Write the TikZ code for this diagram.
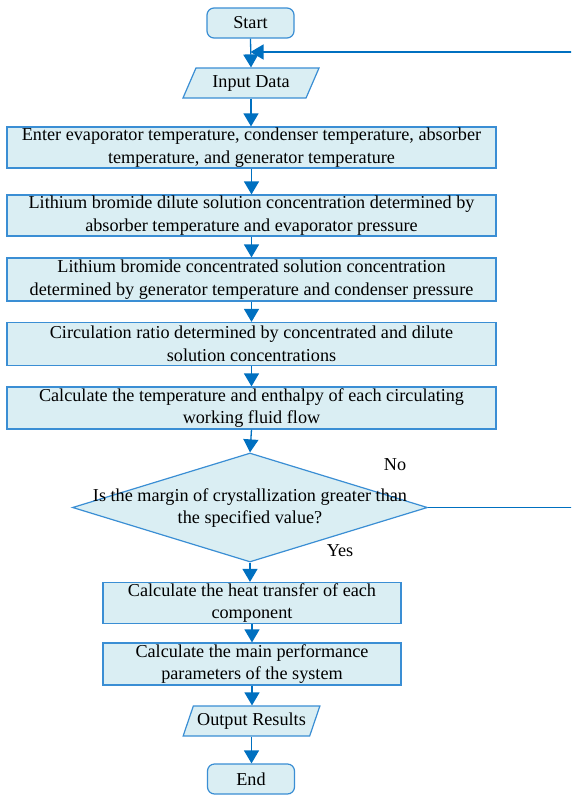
\documentclass[tikz,border=0pt]{standalone}
\usepackage{fontspec}
\setmainfont{Liberation Serif}
\usetikzlibrary{shapes.geometric,arrows.meta}
\definecolor{boxfill}{HTML}{DAEEF3}
\definecolor{boxline}{HTML}{3A8ED4}
\definecolor{arrowc}{HTML}{0070C0}
\tikzset{
  every node/.style={font=\fontsize{18.2}{22.5}\selectfont},
  procbox/.style={draw=boxline, fill=boxfill, line width=1.2pt, inner sep=0pt, align=center, rectangle},
  termbox/.style={draw=boxline, fill=boxfill, line width=1.2pt, inner sep=0pt, rounded corners=7pt, minimum width=87pt, minimum height=30pt},
  iobox/.style={draw=boxline, fill=boxfill, line width=1.2pt, inner sep=0pt, trapezium, trapezium left angle=60, trapezium right angle=120, trapezium stretches=true, minimum width=137pt, minimum height=30pt},
  flow/.style={draw=arrowc, line width=1.3pt, -{Triangle[length=13pt,width=15pt]}},
  plainline/.style={draw=arrowc, line width=1.3pt},
}
\begin{document}
\begin{tikzpicture}[x=1pt,y=-1pt]
\clip (0,0) rectangle (571,795);
\fill[white] (0,0) rectangle (571,795);

\node[termbox] (start) at (250.5,23) {Start};
\node[iobox] (input) at (251,83) {Input Data};
\node[procbox, minimum width=489pt, minimum height=41pt] (b1) at (251.5,147.5) {Enter evaporator temperature, condenser temperature, absorber\\temperature, and generator temperature};
\node[procbox, minimum width=489pt, minimum height=41pt] (b2) at (251.5,215.5) {Lithium bromide dilute solution concentration determined by\\absorber temperature and evaporator pressure};
\node[procbox, minimum width=489pt, minimum height=43pt] (b3) at (251.5,279.5) {Lithium bromide concentrated solution concentration\\determined by generator temperature and condenser pressure};
\node[procbox, minimum width=489pt, minimum height=43pt] (b4) at (251.5,344) {Circulation ratio determined by concentrated and dilute\\solution concentrations};
\node[procbox, minimum width=489pt, minimum height=42pt] (b5) at (251.5,408) {Calculate the temperature and enthalpy of each circulating\\working fluid flow};
\node[draw=boxline, fill=boxfill, line width=1.2pt, diamond, inner sep=0pt, minimum width=355pt, minimum height=109pt] (dia) at (250,507.5) {};
\node[align=center, inner sep=0pt] (diatext) at (250,508) {Is the margin of crystallization greater than\\the specified value?};
\node[procbox, minimum width=298pt, minimum height=41pt] (b6) at (252,603) {Calculate the heat transfer of each\\component};
\node[procbox, minimum width=298pt, minimum height=42pt] (b7) at (252,664) {Calculate the main performance\\parameters of the system};
\node[iobox] (output) at (251.5,721) {Output Results};
\node[termbox] (end) at (251,779) {End};

\node[inner sep=0pt] (no) at (395,465) {No};
\node[inner sep=0pt] (yes) at (340,551) {Yes};

\coordinate (merge) at (start.south |- 0,52);
\coordinate (rt) at (580,0);

\draw[flow] (start.south) -- (input.north);
\draw[flow] (input.south) -- (input.south |- b1.north);
\draw[flow] (b1.south) -- (b2.north);
\draw[flow] (b2.south) -- (b3.north);
\draw[flow] (b3.south) -- (b4.north);
\draw[flow] (b4.south) -- (b5.north);
\draw[flow] (b5.south) -- (dia.north);
\draw[flow] (dia.south) -- (dia.south |- b6.north);
\draw[flow] (b6.south) -- (b7.north);
\draw[flow] (b7.south) -- (b7.south |- output.north);
\draw[flow] (output.south) -- (output.south |- end.north);
\draw[plainline] (dia.east) -- (dia.east -| rt) -- (rt |- merge);
\draw[flow] (rt |- merge) -- (merge);
\end{tikzpicture}
\end{document}
